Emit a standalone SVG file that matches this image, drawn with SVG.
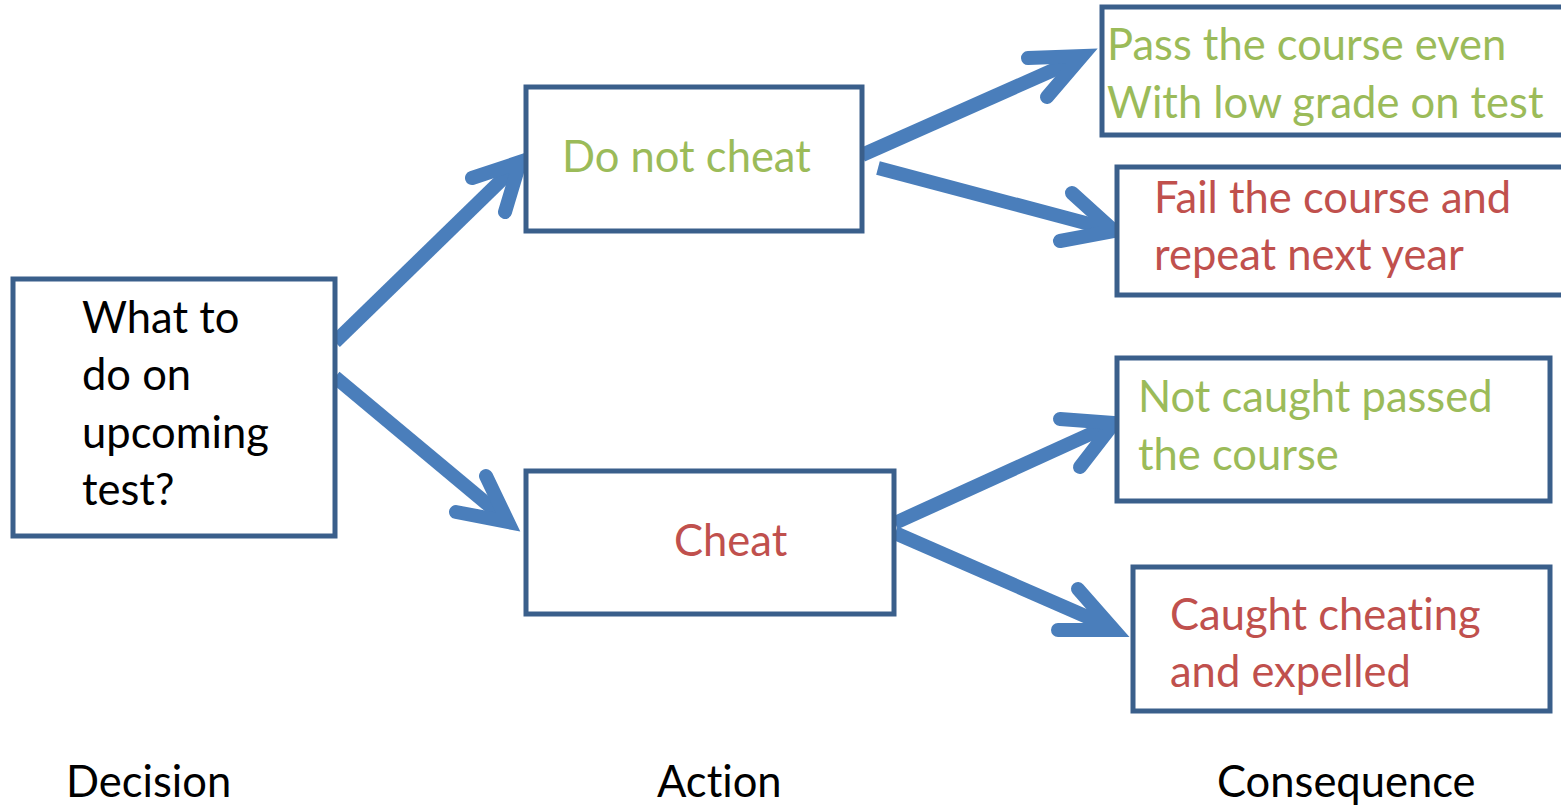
<svg xmlns="http://www.w3.org/2000/svg" width="1561" height="805" viewBox="0 0 1561 805">
<style>
.box{fill:#fff;stroke:#3a5f8b;stroke-width:5}
.t{font-family:Lato,"Open Sans",sans-serif;font-size:43.5px;font-variant-ligatures:none}
.k{fill:#000}.g{fill:#9bbb59}.r{fill:#c0504d}
.a{fill:none;stroke:#4a7ebb;stroke-width:14;stroke-linecap:butt}
.h{fill:none;stroke:#4a7ebb;stroke-width:14;stroke-linecap:round;stroke-linejoin:miter}
</style>
<rect width="1561" height="805" fill="#fff"/>
<g id="connectors">
<line class="a" x1="335" y1="342" x2="516" y2="166"/>
<polyline class="h" points="472,178 520,162 505,212"/>
<line class="a" x1="335" y1="377" x2="504" y2="518"/>
<polyline class="h" points="456,512 508,522 486,476"/>
<line class="a" x1="862" y1="155" x2="1076" y2="60"/>
<polyline class="h" points="1028,58 1082,56 1047,97"/>
<line class="a" x1="878" y1="168" x2="1108" y2="229"/>
<polyline class="h" points="1072,193 1114,231 1060,241"/>
<line class="a" x1="895" y1="523" x2="1108" y2="426"/>
<polyline class="h" points="1060,419 1114,423 1080,467"/>
<line class="a" x1="895" y1="533" x2="1108" y2="626"/>
<polyline class="h" points="1078,589 1114,630 1058,630"/>
</g>
<g id="decision">
<rect class="box" x="13" y="279" width="322" height="257"/>
<text class="t k" x="82" y="333">What to</text>
<text class="t k" x="82" y="390">do on</text>
<text class="t k" x="82" y="448">upcoming</text>
<text class="t k" x="82" y="505">test?</text>
</g>
<g id="donotcheat">
<rect class="box" x="526" y="87" width="336" height="144"/>
<text class="t g" x="562" y="172">Do not cheat</text>
</g>
<g id="cheat">
<rect class="box" x="526" y="471" width="368" height="143"/>
<text class="t r" x="674" y="556">Cheat</text>
</g>
<g id="pass">
<rect class="box" x="1102" y="7" width="470" height="128"/>
<text class="t g" x="1107" y="60">Pass the course even</text>
<text class="t g" x="1107" y="118">With low grade on test</text>
</g>
<g id="fail">
<rect class="box" x="1117" y="167" width="455" height="128"/>
<text class="t r" x="1154" y="213">Fail the course and</text>
<text class="t r" x="1154" y="270">repeat next year</text>
</g>
<g id="notcaught">
<rect class="box" x="1117" y="358" width="433" height="143"/>
<text class="t g" x="1138" y="412">Not caught passed</text>
<text class="t g" x="1138" y="470">the course</text>
</g>
<g id="caught">
<rect class="box" x="1133" y="567" width="417" height="144"/>
<text class="t r" x="1170" y="630">Caught cheating</text>
<text class="t r" x="1170" y="687">and expelled</text>
</g>
<g id="labels">
<text class="t k" x="66" y="797">Decision</text>
<text class="t k" x="657" y="797">Action</text>
<text class="t k" x="1217" y="797">Consequence</text>
</g>
</svg>
